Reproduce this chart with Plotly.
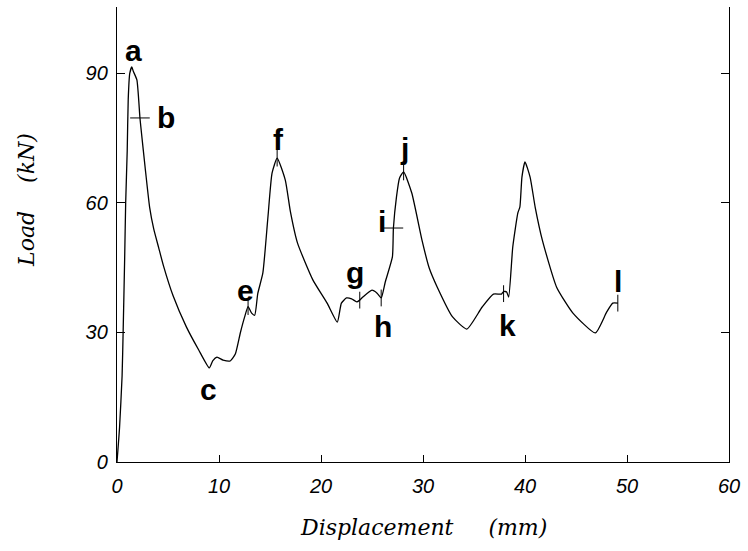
import plotly.graph_objects as go

# Load-displacement curve (mm, kN)
disp = [0, 0.25, 0.5, 0.6, 0.75, 0.85, 1.0, 1.1, 1.25, 1.45, 1.6, 1.95, 2.25, 2.4, 2.75,
        3.2, 3.6, 4.1, 4.55, 5.5, 6.8, 8.0, 9.05, 9.4, 9.8, 10.4, 11.1, 11.6, 12.1, 12.5,
        12.85, 13.2, 13.5, 13.8, 14.3, 14.8, 15.2, 15.7, 16.5, 17.0, 17.7, 19.2, 20.6,
        21.6, 22.0, 22.5, 23.0, 23.5, 23.8, 24.1, 25.0, 25.5, 25.9, 26.3, 27.0, 27.1,
        27.4, 27.7, 28.1, 28.9, 29.9, 30.6, 31.4, 32.9, 34.3, 35.8, 36.9, 37.7, 37.9,
        38.2, 38.4, 38.8, 39.3, 39.5, 39.7, 40.0, 40.5, 41.0, 41.7, 43.1, 44.7, 46.9,
        48.0, 48.6, 49.1]
load = [0, 8, 20, 30, 47, 60, 72, 84, 90, 91.5, 90.5, 88.5, 79.7, 76.2, 68.4,
        59.0, 54.0, 49.5, 45.5, 38.5, 31.3, 26.0, 21.8, 23.5, 24.3, 23.6, 23.4, 25.0, 30.0, 33.5,
        36.0, 34.5, 34.0, 39.0, 43.8, 56.8, 66.9, 70.4, 65.3, 58.0, 50.7, 42.2, 36.8,
        32.4, 36.8, 38.0, 37.8, 37.1, 37.5, 38.2, 39.8, 39.1, 38.0, 41.7, 47.5, 54.2,
        61.4, 65.8, 67.2, 62.3, 51.4, 45.0, 40.5, 33.6, 30.8, 35.9, 38.9, 38.9, 39.5,
        39.4, 38.2, 49.8, 57.7, 59.1, 66.0, 69.5, 66.0, 59.0, 51.4, 40.5, 34.5, 29.9,
        34.7, 36.8, 36.8]

# Marked points on the curve
hmark_x = [2.25, 27.1]
hmark_y = [79.7, 54.2]
vmark_x = [12.85, 15.7, 23.8, 25.9, 28.1, 37.9, 49.1]
vmark_y = [36.0, 70.4, 37.5, 38.0, 67.2, 39.0, 36.8]

# Letter labels
label_text = ["a", "b", "c", "e", "f", "g", "h", "i", "j", "k", "l"]
label_x = [1.57, 4.8, 9.0, 12.55, 15.8, 23.3, 26.1, 26.0, 28.2, 38.3, 49.1]
label_y = [95.4, 79.7, 16.7, 39.8, 74.6, 43.8, 31.3, 55.6, 72.7, 31.7, 41.7]

x_ticks = [0, 10, 20, 30, 40, 50, 60]
y_ticks = [0, 30, 60, 90]

fig = go.Figure()
fig.add_trace(go.Scatter(x=disp, y=load, mode="lines",
                         line=dict(color="black", width=1.3, shape="spline", smoothing=0.5),
                         showlegend=False))
fig.add_trace(go.Scatter(x=hmark_x, y=hmark_y, mode="markers",
                         marker=dict(symbol="line-ew", size=14,
                                     line=dict(color="black", width=1)),
                         showlegend=False))
fig.add_trace(go.Scatter(x=vmark_x, y=vmark_y, mode="markers",
                         marker=dict(symbol="line-ns", size=12,
                                     line=dict(color="black", width=1)),
                         showlegend=False))

for t, lx, ly in zip(label_text, label_x, label_y):
    fig.add_annotation(x=lx, y=ly, text=t, showarrow=False,
                       font=dict(family="Liberation Sans, Arial", size=30,
                                 color="black", weight="bold"))

title_font = dict(family="DejaVu Serif", size=22, color="black", style="italic")
fig.add_annotation(xref="paper", yref="paper", x=0.5, y=-0.143, yanchor="middle",
                   text="Displacement" + "\u00a0" * 5 + "(mm)", showarrow=False,
                   font=title_font)
fig.add_annotation(xref="paper", yref="paper", x=-0.147, y=0.576, xanchor="center",
                   yanchor="middle",
                   text="Load" + "\u00a0" * 4 + "(kN)", showarrow=False, textangle=-90,
                   font=title_font)

tick_font = dict(family="Liberation Sans, Arial", size=20, color="black", style="italic")
fig.update_xaxes(range=[0, 60], tickvals=x_ticks, ticks="inside", ticklen=7,
                 tickcolor="black", showline=True, linecolor="black", linewidth=1.3,
                 showgrid=False, zeroline=False, tickfont=tick_font, mirror=False,
                 ticklabelstandoff=6)
fig.update_yaxes(range=[0, 105.4], tickvals=y_ticks, ticks="inside", ticklen=8,
                 tickcolor="black", showline=True, linecolor="black", linewidth=1.3,
                 showgrid=False, zeroline=False, tickfont=tick_font, mirror="ticks",
                 ticklabelstandoff=4)
fig.update_layout(width=748, height=551, margin=dict(l=117, r=19, t=7, b=89),
                  plot_bgcolor="white", paper_bgcolor="white")
fig.write_html("out.html")
